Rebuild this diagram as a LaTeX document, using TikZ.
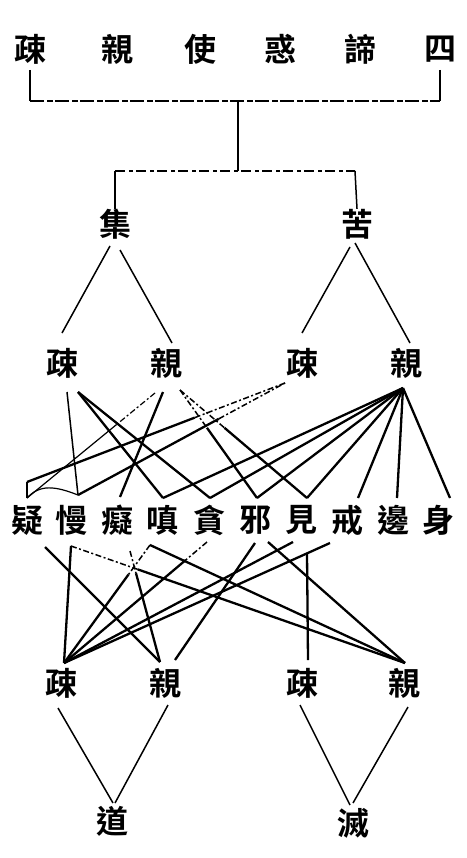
\documentclass[tikz,border=0pt]{standalone}
\usepackage{fontspec}
\newfontfamily\cjk[BoldFont={* Bold}]{Noto Sans CJK TC}
\usetikzlibrary{calc}
\begin{document}
\begin{tikzpicture}[x=1pt,y=-1pt,
  ch/.style={font=\cjk\bfseries\fontsize{32}{32}\selectfont, inner sep=0pt},
  ln/.style={line width=1.5pt},
  tk/.style={line width=2.3pt},
  th/.style={line width=1.2pt},
  dsh/.style={dash pattern=on 6pt off 2.5pt on 2pt off 2.5pt}]
\useasboundingbox (0,0) rectangle (466,858);
\fill[white] (0,0) rectangle (466,858);

% title row
\node[ch] (t1) at (30,49) {疎};
\node[ch] (t2) at (117,49) {親};
\node[ch] (t3) at (200,49) {使};
\node[ch] (t4) at (280,49) {惑};
\node[ch] (t5) at (360,49) {諦};
\node[ch] (t6) at (440,49) {四};

% bracket
\coordinate (bl) at (30,70);
\coordinate (bld) at (30,101);
\coordinate (br) at (440,70);
\coordinate (brd) at (440,101);
\coordinate (bm) at (238,101);
\coordinate (bm2) at (238,171);
\coordinate (hl) at (115,171);
\coordinate (hr) at (355,171);
\draw[ln] (bl) -- (bld);
\draw[ln] (br) -- (brd);
\draw[ln,dash pattern=on 14pt off 3pt on 6pt off 2pt] (bld) -- (brd);
\draw[ln] (bm) -- (bm2);
\draw[ln,dash pattern=on 10pt off 4pt on 4pt off 3pt] (hl) -- (hr);

% second level
\node[ch] (ji) at (115,224) {集};
\node[ch] (ku) at (357,224) {苦};
\draw[ln] (hl) -- (ji.north);
\draw[ln] (hr) -- (ku.north);

% third level
\node[ch] (A1) at (62,363) {疎};
\node[ch] (A2) at (166,363) {親};
\node[ch] (A3) at (302,363) {疎};
\node[ch] (A4) at (406,363) {親};
\coordinate (ji-l) at (110,246);
\coordinate (ji-r) at (120,250);
\coordinate (ku-l) at (350,247);
\coordinate (ku-r) at (355,243);
\coordinate (A1-t) at (62,333);
\coordinate (A2-t) at (172,343);
\coordinate (A3-t) at (302,333);
\coordinate (A4-t) at (410,343);
\draw[ln] (ji-l) -- (A1-t);
\draw[ln] (ji-r) -- (A2-t);
\draw[ln] (ku-l) -- (A3-t);
\draw[ln] (ku-r) -- (A4-t);

% ten afflictions
\node[ch] (yi) at (28,520) {疑};
\node[ch] (man) at (71,520) {慢};
\node[ch] (chi) at (117,520) {癡};
\node[ch] (chen) at (162,520) {嗔};
\node[ch] (tan) at (209,520) {貪};
\node[ch] (xie) at (255,520) {邪};
\node[ch] (jian) at (301,520) {見};
\node[ch] (jie) at (347,520) {戒};
\node[ch] (bian) at (393,520) {邊};
\node[ch] (shen) at (438,520) {身};

% anchors below third level
\coordinate (a1) at (67,392);
\coordinate (a1r) at (78,392);
\coordinate (a2l) at (155,393);
\coordinate (a2) at (163,392);
\coordinate (a2r) at (180,390);
\coordinate (a3) at (285,383);
\coordinate (a4) at (403,388);

% vertices above the ten
\coordinate (yi-c) at (27,482);
\coordinate (yi-t) at (27,498);
\coordinate (man-t) at (78,495);
\coordinate (chi-t) at (120,497);
\coordinate (chen-t) at (163,498);
\coordinate (tan-t) at (210,498);
\coordinate (xie-t) at (257,498);
\coordinate (jian-t) at (307,498);
\coordinate (jie-t) at (358,498);
\coordinate (bian-t) at (397,498);
\coordinate (shen-t) at (450,498);

% 疎 of 集
\draw[ln] (a1) -- (man-t);
\draw[tk] (a1r) -- (chen-t);
\draw[tk] (a1r) -- (tan-t);
% 親 of 集
\draw[th,dsh] (a2l) -- ($(a2l)!0.3!(yi-t)$);
\draw[th] ($(a2l)!0.3!(yi-t)$) -- (yi-t);
\draw[tk] (a2) -- (chi-t);
\draw[ln,dsh] (a2r) -- ($(a2r)!0.35!(xie-t)$);
\draw[tk] ($(a2r)!0.35!(xie-t)$) -- (xie-t);
\draw[ln,dsh] (a2r) -- ($(a2r)!0.35!(jian-t)$);
\draw[tk] ($(a2r)!0.35!(jian-t)$) -- (jian-t);
% 疎 of 苦
\draw[tk] (yi-t) -- (yi-c);
\draw[tk] (yi-c) -- ($(yi-c)!0.65!(a3)$);
\draw[ln,dsh] ($(yi-c)!0.65!(a3)$) -- (a3);
\draw[tk] (man-t) -- ($(man-t)!0.68!(a3)$);
\draw[ln,dsh] ($(man-t)!0.68!(a3)$) -- (a3);
\draw[th] (yi-t) .. controls (40,484) and (55,486) .. (man-t);
% 親 of 苦
\draw[tk] (a4) -- (chen-t);
\draw[tk] (a4) -- (tan-t);
\draw[tk] (a4) -- (xie-t);
\draw[tk] (a4) -- (jian-t);
\draw[tk] (a4) -- (jie-t);
\draw[tk] (a4) -- (bian-t);
\draw[tk] (a4) -- (shen-t);

% anchors below the ten
\coordinate (yi-b) at (45,547);
\coordinate (man-b) at (71,546);
\coordinate (chi-b) at (130,551);
\coordinate (chen-b) at (150,545);
\coordinate (tan-b) at (207,542);
\coordinate (xie-b) at (255,543);
\coordinate (xie-br) at (268,542);
\coordinate (jian-b) at (293,542);
\coordinate (jian-bv) at (307,553);
\coordinate (jie-b) at (330,543);

% fourth level
\node[ch] (B1) at (61,683) {疎};
\node[ch] (B2) at (165,683) {親};
\node[ch] (B3) at (302,683) {疎};
\node[ch] (B4) at (404,683) {親};
\coordinate (b1t) at (64,663);
\coordinate (b2t) at (160,662);
\coordinate (b2tr) at (175,660);
\coordinate (b3t) at (308,660);
\coordinate (b4t) at (405,663);

% to 疎 (left)
\draw[tk] (man-b) -- (b1t);
\draw[ln,dsh] (chen-b) -- ($(chen-b)!0.25!(b1t)$);
\draw[tk] ($(chen-b)!0.25!(b1t)$) -- (b1t);
\draw[ln,dsh] (tan-b) -- ($(tan-b)!0.15!(b1t)$);
\draw[tk] ($(tan-b)!0.15!(b1t)$) -- (b1t);
\draw[tk] (jian-b) -- (b1t);
\draw[tk] (jie-b) -- (b1t);
% to 親 (left)
\draw[tk] (yi-b) -- (b2t);
\draw[ln,dsh] (chi-b) -- ($(chi-b)!0.2!(b2t)$);
\draw[tk] ($(chi-b)!0.2!(b2t)$) -- (b2t);
\draw[tk] (xie-b) -- (b2tr);
% to 疎 (right)
\draw[tk] (jian-bv) -- (b3t);
% to 親 (right)
\draw[ln,dsh] (man-b) -- ($(man-b)!0.2!(b4t)$);
\draw[tk] ($(man-b)!0.2!(b4t)$) -- (b4t);
\draw[tk] (chen-b) -- (b4t);
\draw[tk] (xie-br) -- (b4t);

% bottom level
\node[ch] (dao) at (112,821) {道};
\node[ch] (mie) at (353,823) {滅};
\coordinate (B1b) at (58,708);
\coordinate (B2b) at (168,705);
\coordinate (B3b) at (300,705);
\coordinate (B4b) at (408,707);
\coordinate (dao-t) at (113,803);
\coordinate (dao-tr) at (115,803);
\coordinate (mie-t) at (350,805);
\coordinate (mie-tr) at (353,803);
\draw[ln] (B1b) -- (dao-t);
\draw[ln] (B2b) -- (dao-tr);
\draw[ln] (B3b) -- (mie-t);
\draw[ln] (B4b) -- (mie-tr);
\end{tikzpicture}
\end{document}
